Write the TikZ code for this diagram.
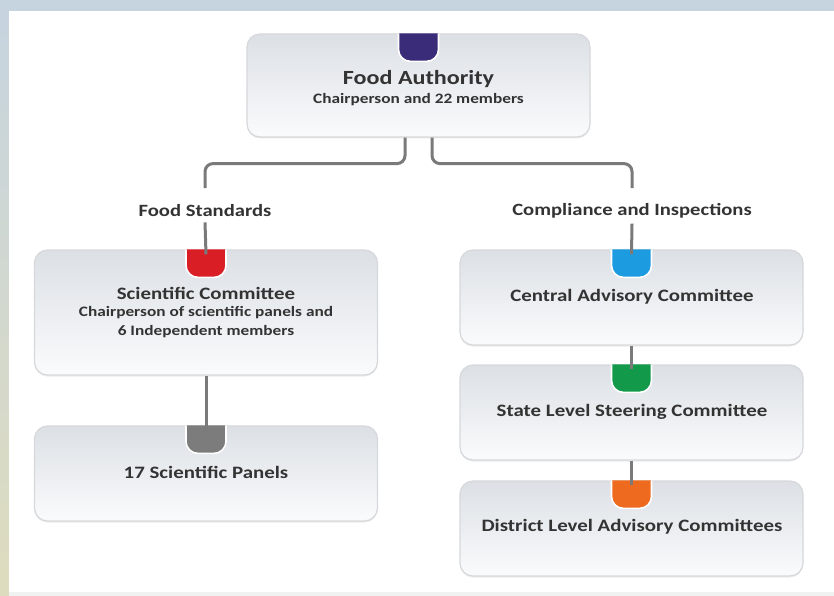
\documentclass[tikz,border=0pt]{standalone}
\usepackage{fontspec}
\setmainfont{Carlito}[FakeStretch=1.2]
\usetikzlibrary{shadows}
\definecolor{txt}{HTML}{333333}
\definecolor{conn}{HTML}{7A7A7A}
\definecolor{boxtop}{HTML}{DCE0E5}
\definecolor{boxbot}{HTML}{FAFBFC}
\definecolor{boxline}{HTML}{D6D8DB}
\definecolor{cpurple}{HTML}{3A2C78}
\definecolor{cred}{HTML}{D91E26}
\definecolor{cgray}{HTML}{7C7C7C}
\definecolor{cblue}{HTML}{1C9BE0}
\definecolor{cgreen}{HTML}{12994A}
\definecolor{corange}{HTML}{EE6A1E}
\definecolor{bgtop}{HTML}{C6D4E0}
\definecolor{bgbot}{HTML}{DEDCBE}
\definecolor{bgstrip}{HTML}{F0F1F1}
\tikzset{
  orgbox/.style={draw=boxline, line width=1.2pt, rounded corners=13pt, top color=boxtop, bottom color=boxbot,
    minimum width=343pt, inner sep=0pt,
    drop shadow={shadow xshift=0pt, shadow yshift=-1.5pt, fill=black, opacity=0.08}},
  conline/.style={draw=conn, line width=3pt, rounded corners=8pt},
  ttl/.style={text=txt, font=\bfseries\fontsize{17.4}{20}\selectfont, inner sep=0pt},
  sub/.style={text=txt, font=\bfseries\fontsize{14.4}{19}\selectfont, inner sep=0pt, align=center},
  lbl/.style={text=txt, font=\bfseries\fontsize{17.2}{20}\selectfont, inner sep=0pt},
}
\newcommand{\tabmark}[2]{% #1 node name, #2 colour
  \draw[white, line width=1.6pt, fill=#2, rounded corners=12pt]
    ([xshift=-20pt]#1.north) -- ++(0,28) -- ++(40,0) -- ++(0,-28);
}
\begin{document}
\begin{tikzpicture}[x=1pt,y=-1pt]
\useasboundingbox (0,0) rectangle (834,596);
% background frame
\shade[top color=bgtop, bottom color=bgbot] (0,0) rectangle (834,596);
\fill[bgstrip] (9,588) rectangle (834,596);
\fill[white] (9,11) rectangle (834,592);

% boxes
\node[orgbox, minimum height=103pt] (fa) at (418.5,85.5) {};
\node[orgbox, minimum height=125pt] (sc) at (206,312.5) {};
\node[orgbox, minimum height=95pt] (sp) at (206,473.5) {};
\node[orgbox, minimum height=95pt] (ca) at (631.5,297.5) {};
\node[orgbox, minimum height=95pt] (sl) at (631.5,412.5) {};
\node[orgbox, minimum height=95pt] (dl) at (631.5,528.5) {};

% tabs
\tabmark{fa}{cpurple}
\tabmark{sc}{cred}
\tabmark{sp}{cgray}
\tabmark{ca}{cblue}
\tabmark{sl}{cgreen}
\tabmark{dl}{corange}

% texts
\node[text=txt, font=\bfseries\fontsize{20.1}{24}\selectfont, inner sep=0pt] (fat) at (418.5,79) {Food Authority};
\node[sub] (fas) at (418.5,100) {Chairperson and 22 members};

\node[lbl] (fs) at (205,211) {Food Standards};
\node[lbl] (ci) at (632,211) {Compliance and Inspections};

\node[ttl] (sct) at (206,293) {Scientific Committee};
\node[sub] (scs) at (206,322.5) {Chairperson of scientific panels and\\6 Independent members};
\node[ttl] (spt) at (206,472) {17 Scientific Panels};
\node[ttl] (cat) at (632,297) {Central Advisory Committee};
\node[ttl] (slt) at (632,412) {State Level Steering Committee};
\node[ttl] (dlt) at (632,527) {District Level Advisory Committees};

% connectors
\coordinate (fsTop) at (205,188);
\coordinate (ciTop) at (632,188);
\draw[conline] ([xshift=-13.5pt]fa.south) -- ++(0,26) -| (fsTop);
\draw[conline] ([xshift=13.5pt]fa.south) -- ++(0,26) -| (ciTop);
\draw[conline] ([yshift=-5pt]fs.south) -- ([yshift=-5pt]sc.north);
\draw[conline] ([yshift=-5pt]ci.south) -- ([yshift=-5pt]ca.north);
\draw[conline] (sc.south) -- ([yshift=-5pt]sp.north);
\draw[conline] (ca.south) -- ([yshift=-5pt]sl.north);
\draw[conline] (sl.south) -- ([yshift=-5pt]dl.north);
\end{tikzpicture}
\end{document}
